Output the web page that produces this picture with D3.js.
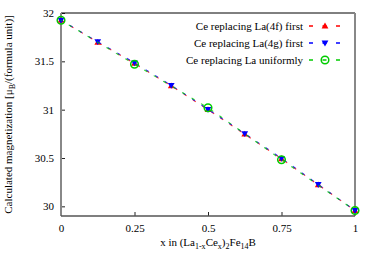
<!DOCTYPE html>
<html>
<head>
<meta charset="utf-8">
<script src="https://cdn.jsdelivr.net/npm/d3@7"></script>
<style>
  body { margin: 0; background: #fff; }
</style>
</head>
<body>
<svg id="chart" width="375" height="263"></svg>
<script>
// composition x and computed moments
const xFine = [0, 0.125, 0.25, 0.375, 0.5, 0.625, 0.75, 0.875, 1]
const xCoarse = [0, 0.25, 0.5, 0.75, 1]
const mag4f = [31.925, 31.697, 31.478, 31.246, 31.0, 30.746, 30.492, 30.222, 29.957]
const mag4g = [31.925, 31.703, 31.485, 31.252, 31.004, 30.752, 30.497, 30.226, 29.957]
const magUniform = [31.925, 31.47, 31.02, 30.482, 29.957]
const xTicks = [0, 0.25, 0.5, 0.75, 1]
const yTicks = [30, 30.5, 31, 31.5, 32]

const series = [
  { name: 'Ce replacing La(4f) first', xs: xFine, ys: mag4f, color: '#ff0000', marker: 'up' },
  { name: 'Ce replacing La(4g) first', xs: xFine, ys: mag4g, color: '#0000ff', marker: 'down' },
  { name: 'Ce replacing La uniformly', xs: xCoarse, ys: magUniform, color: '#00cc00', marker: 'circle' }
]

const margin = { left: 61, right: 20, top: 13, bottom: 47 }
const W = 375, H = 263
const svg = d3.select('#chart')
const serif = '"Liberation Serif", "Times New Roman", serif'

const x = d3.scaleLinear().domain([0, 1]).range([margin.left, W - margin.right])
const y = d3.scaleLinear().domain([29.9, 32]).range([H - margin.bottom, margin.top])

// ── axes: inward ticks, gnuplot style ──
const xAxis = svg.append('g').attr('transform', `translate(0,${y(29.9)})`)
  .call(d3.axisBottom(x).tickValues(xTicks).tickFormat(d3.format('')).tickSize(-4).tickPadding(8))
const yAxis = svg.append('g').attr('transform', `translate(${x(0)},0)`)
  .call(d3.axisLeft(y).tickValues(yTicks).tickFormat(d3.format('')).tickSize(-4).tickPadding(7))

;[xAxis, yAxis].forEach(g => {
  g.select('.domain').remove()
  g.selectAll('.tick line').attr('stroke', '#222').attr('stroke-width', 1)
  g.selectAll('.tick text').attr('fill', '#000')
    .style('font-family', serif).style('font-size', '11px')
})
xAxis.selectAll('.tick').filter(d => d === 0 || d === 1).select('line').remove()

// frame
const x0 = x(0), x1 = x(1), yTop = y(32), yBot = y(29.9)
svg.append('line').attr('x1', x0).attr('x2', x1).attr('y1', yTop).attr('y2', yTop)
  .attr('stroke', '#000').attr('stroke-width', 1)
svg.append('line').attr('x1', x0).attr('x2', x0).attr('y1', yTop).attr('y2', yBot)
  .attr('stroke', '#888').attr('stroke-width', 2)
svg.append('line').attr('x1', x1).attr('x2', x1).attr('y1', yTop).attr('y2', yBot)
  .attr('stroke', '#888').attr('stroke-width', 2)
svg.append('line').attr('x1', x0).attr('x2', x1).attr('y1', yBot).attr('y2', yBot)
  .attr('stroke', '#555').attr('stroke-width', 1.5)

// ── series ──
const line = d3.line().x(d => x(d[0])).y(d => y(d[1]))

function drawMarker(g, kind, color) {
  if (kind === 'up') {
    g.append('path').attr('d', 'M0,-3.4L3.4,2.4L-3.4,2.4Z').attr('fill', color)
  } else if (kind === 'down') {
    g.append('path').attr('d', 'M0,3.4L3.4,-2.4L-3.4,-2.4Z').attr('fill', color)
  } else {
    g.append('circle').attr('r', 3.8).attr('fill', 'none').attr('stroke', color).attr('stroke-width', 1.5)
  }
}

// slight offsets so the three dash trains don't sit exactly on each other
const dashOffset = [0, 1, 2]
series.forEach((s, i) => {
  const pts = s.xs.map((v, j) => [v, s.ys[j]])
  svg.append('path').datum(pts).attr('d', line)
    .attr('fill', 'none').attr('stroke', s.color).attr('stroke-width', 1.1)
    .attr('stroke-dasharray', '3.5,7.5').attr('stroke-dashoffset', dashOffset[i]).attr('opacity', 0.8)
  pts.forEach(p => {
    drawMarker(svg.append('g').attr('transform', `translate(${x(p[0])},${y(p[1])})`), s.marker, s.color)
  })
})

// ── legend ──
const legend = svg.append('g')
series.forEach((s, i) => {
  const ly = 26 + i * 17
  legend.append('text').attr('x', 303).attr('y', ly).attr('dy', '0.35em')
    .attr('text-anchor', 'end').style('font-family', serif).style('font-size', '11px').text(s.name)
  legend.append('line').attr('x1', 309).attr('x2', 343).attr('y1', ly).attr('y2', ly)
    .attr('stroke', s.color).attr('stroke-width', 1.3).attr('stroke-dasharray', '4,9.5')
  drawMarker(legend.append('g').attr('transform', `translate(325,${ly})`), s.marker, s.color)
})

// ── axis titles ──
const xt = svg.append('text').attr('x', (x0 + x1) / 2).attr('y', 246)
  .attr('text-anchor', 'middle').style('font-family', serif).style('font-size', '11px')
xt.append('tspan').text('x in (La')
xt.append('tspan').style('font-size', '8px').attr('dy', 3).text('1-x')
xt.append('tspan').attr('dy', -3).text('Ce')
xt.append('tspan').style('font-size', '8px').attr('dy', 3).text('x')
xt.append('tspan').attr('dy', -3).text(')')
xt.append('tspan').style('font-size', '8px').attr('dy', 3).text('2')
xt.append('tspan').attr('dy', -3).text('Fe')
xt.append('tspan').style('font-size', '8px').attr('dy', 3).text('14')
xt.append('tspan').attr('dy', -3).text('B')

const yt = svg.append('text').attr('transform', `translate(12,${(yTop + yBot) / 2}) rotate(-90)`)
  .attr('text-anchor', 'middle').style('font-family', serif).style('font-size', '11px')
yt.append('tspan').text('Calculated magnetization [\u03bc')
yt.append('tspan').style('font-size', '8px').attr('dy', 3).text('B')
yt.append('tspan').attr('dy', -3).text('/(formula unit)]')
</script>
</body>
</html>
